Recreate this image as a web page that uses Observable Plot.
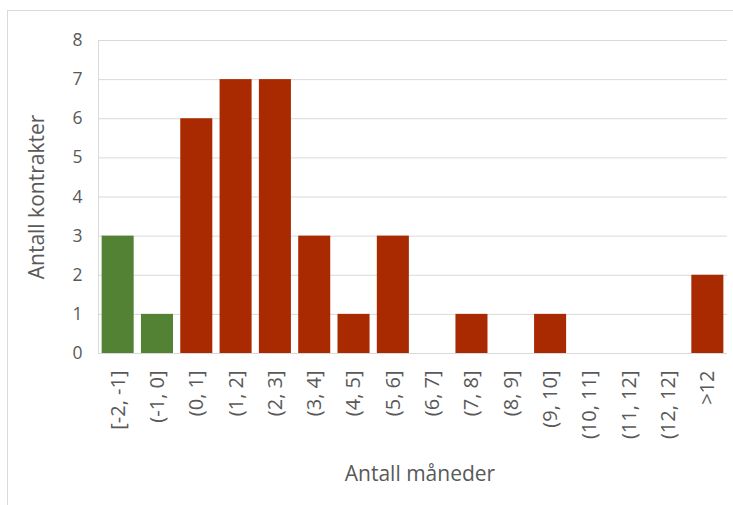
<!DOCTYPE html>
<html><head><meta charset="utf-8">
<script src="https://cdn.jsdelivr.net/npm/d3@7"></script>
<script src="https://cdn.jsdelivr.net/npm/@observablehq/plot@0.6"></script>
<style>
html,body{margin:0;padding:0;background:#fff;}
#wrap{position:relative;width:733px;height:505px;overflow:hidden;}
#frame{position:absolute;left:7px;top:10px;width:800px;height:600px;border:1px solid #d9d9d9;box-sizing:border-box;}
#chart{position:absolute;left:0;top:0;}
</style></head>
<body><div id="wrap"><div id="frame"></div><div id="chart"></div></div>
<script>
const categories = ["[-2, -1]","(-1, 0]","(0, 1]","(1, 2]","(2, 3]","(3, 4]","(4, 5]","(5, 6]","(6, 7]","(7, 8]","(8, 9]","(9, 10]","(10, 11]","(11, 12]","(12, 12]",">12"];
const values = [3,1,6,7,7,3,1,3,0,1,0,1,0,0,0,2];
const groups = ["neg","neg","pos","pos","pos","pos","pos","pos","pos","pos","pos","pos","pos","pos","pos","pos"];
const yTicks = [0,1,2,3,4,5,6,7,8];
const data = categories.map((c,i)=>({cat:c, v:values[i], g:groups[i]}));
const chart = Plot.plot({
  width:733, height:505,
  marginLeft:98, marginRight:6, marginTop:40, marginBottom:152,
  style:{fontFamily:"'Open Sans', sans-serif", fontSize:"16px", color:"#595959", background:"transparent"},
  x:{domain:categories, paddingInner:0.185, paddingOuter:0.0925, round:false, label:null},
  y:{domain:[0,8], ticks:yTicks, label:null},
  color:{domain:["neg","pos"], range:["#548235","#a92a00"]},
  marks:[
    Plot.gridY(yTicks.filter(d=>d>0), {stroke:"#d9d9d9", strokeOpacity:1, strokeWidth:1}),
    Plot.frame({anchor:"left", stroke:"#d9d9d9"}),
    Plot.barY(data, {x:"cat", y:"v", fill:"g"}),
    Plot.ruleY([0], {stroke:"#d9d9d9", strokeWidth:1}),
    Plot.axisY({ticks:yTicks, tickSize:0, tickPadding:16, fontSize:17.5, fill:"#595959"}),
    Plot.axisX({tickSize:0, tickRotate:-90, tickPadding:17, fontSize:20, fill:"#595959"}),
    Plot.text(["Antall kontrakter"], {frameAnchor:"left", textAnchor:"middle", dx:-61, rotate:-90, fontSize:21, fill:"#595959"}),
    Plot.text(["Antall måneder"], {frameAnchor:"bottom", dy:127, dx:7, fontSize:21, fill:"#595959"})
  ]
});
document.getElementById("chart").appendChild(chart);
</script></body></html>
